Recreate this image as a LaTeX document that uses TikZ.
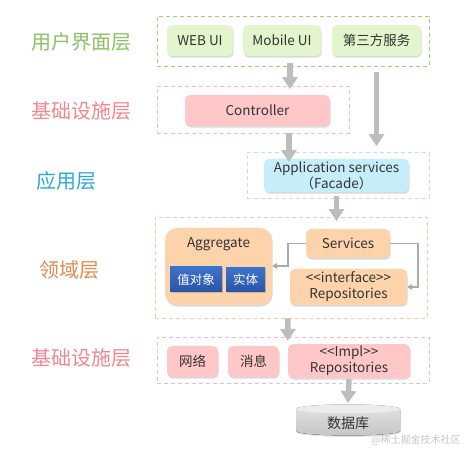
\documentclass[tikz,border=0pt]{standalone}
\usepackage{fontspec}
\setmainfont{Noto Sans CJK SC}
\usetikzlibrary{shadows,arrows.meta,calc}
\definecolor{uigreen}{HTML}{8CC063}
\definecolor{uidash}{HTML}{A8C87A}
\definecolor{uifill}{HTML}{E3F5CC}
\definecolor{infrapink}{HTML}{F0868F}
\definecolor{infradash}{HTML}{F5B8C4}
\definecolor{infrafill}{HTML}{FFC7C7}
\definecolor{appcyan}{HTML}{29A9D9}
\definecolor{appdash}{HTML}{B8E0EE}
\definecolor{appfill}{HTML}{C5EEFA}
\definecolor{domorange}{HTML}{E58A4E}
\definecolor{domdash}{HTML}{F5C9A0}
\definecolor{domfill}{HTML}{FDD3AB}
\definecolor{arrowgray}{HTML}{BDBDBD}
\definecolor{linegray}{HTML}{AAAAAA}
\definecolor{txt}{HTML}{333333}
\definecolor{bluetop}{HTML}{3D72CC}
\definecolor{bluebot}{HTML}{2A55A6}
\begin{document}
\begin{tikzpicture}[x=1pt,y=-1pt,
  box/.style={rounded corners=5pt, inner sep=2pt, align=center,
    font=\fontsize{13.5}{16}\selectfont, text=txt,
    drop shadow={shadow xshift=0.6pt, shadow yshift=-1.6pt, opacity=0.3}},
  layerbox/.style={dash pattern=on 4pt off 3pt, line width=0.8pt},
  layerlabel/.style={font=\fontsize{20}{24}\selectfont},
  bigarrow/.style={draw=arrowgray, line width=5.5pt, -{Triangle[length=12pt,width=15pt]}},
  thinarrow/.style={draw=linegray, line width=1.5pt, -{Triangle[length=5pt,width=6pt]}},
  bluebox/.style={inner sep=1pt, top color=bluetop, bottom color=bluebot, text=white,
    font=\fontsize{12.5}{15}\selectfont,
    drop shadow={shadow xshift=0.6pt, shadow yshift=-1.4pt, opacity=0.35}}
]
\useasboundingbox (0,0) rectangle (472,457);

% layer labels
\node[layerlabel, text=uigreen] (l1) at (81,42) {用户界面层};
\node[layerlabel, text=infrapink] (l2) at (81,111) {基础设施层};
\node[layerlabel, text=appcyan] (l3) at (67,181) {应用层};
\node[layerlabel, text=domorange] (l4) at (69,270) {领域层};
\node[layerlabel, text=infrapink] (l5) at (81,358) {基础设施层};

% dashed layer frames
\node[layerbox, draw=uidash, minimum width=272pt, minimum height=50pt] (uilayer) at (293,41) {};
\node[layerbox, draw=infradash, minimum width=192pt, minimum height=47pt] (infra1) at (253,109.5) {};
\node[layerbox, draw=appdash, minimum width=182pt, minimum height=46pt] (applayer) at (338,175) {};
\node[layerbox, draw=domdash, minimum width=272pt, minimum height=101pt] (domain) at (291,267.5) {};
\node[layerbox, draw=infradash, minimum width=272pt, minimum height=46pt] (infra2) at (293,360) {};

% UI layer
\node[box, fill=uifill, minimum width=66pt, minimum height=31pt] (web) at (200,40.5) {WEB UI};
\node[box, fill=uifill, minimum width=78pt, minimum height=31pt] (mobile) at (282,40.5) {Mobile UI};
\node[box, fill=uifill, minimum width=89pt, minimum height=31pt] (third) at (376.5,40.5) {第三方服务};

% infra 1
\node[box, fill=infrafill, minimum width=145pt, minimum height=31pt] (ctrl) at (257.5,110.5) {Controller};

% app
\node[box, fill=appfill, minimum width=145pt, minimum height=33pt] (appsvc) at (336.5,175.5) {Application services\\（Facade）};

% domain
\node[box, fill=domfill, rounded corners=12pt, minimum width=107pt, minimum height=77pt] (agg) at (218.5,266.5) {};
\node[font=\fontsize{13.5}{16}\selectfont, text=txt] (aggt) at (218.5,244) {Aggregate};
\node[bluebox, minimum width=52pt, minimum height=25pt] (vo) at (196,279.5) {值对象};
\node[bluebox, minimum width=39pt, minimum height=24pt] (ent) at (245.5,280) {实体};
\node[box, fill=domfill, minimum width=84pt, minimum height=29pt] (svc) at (348,243.5) {Services};
\node[box, fill=domfill, minimum width=117pt, minimum height=36pt] (irepo) at (348.5,287) {<{}<interface>{}>\\Repositories};

% infra 2
\node[box, fill=infrafill, minimum width=51pt, minimum height=31pt] (net) at (192.5,361.5) {网络};
\node[box, fill=infrafill, minimum width=51pt, minimum height=31pt] (msg) at (253.5,361.5) {消息};
\node[box, fill=infrafill, minimum width=122pt, minimum height=32pt] (impl) at (349,361) {<{}<Impl>{}>\\Repositories};

% database cylinder
\fill[top color=gray!22, bottom color=gray!45,
  drop shadow={shadow xshift=0.6pt, shadow yshift=-1.4pt, opacity=0.25}]
  (296,409) -- (296,431) arc[start angle=180, end angle=360, x radius=52pt, y radius=4.5pt]
  -- (400,409) arc[start angle=0, end angle=180, x radius=52pt, y radius=4.5pt] -- cycle;
\fill[gray!15] (348,409) ellipse[x radius=52pt, y radius=4.5pt];
\node[font=\fontsize{14}{16}\selectfont, text=txt] (db) at (348,423) {数据库};

% big arrows
\draw[bigarrow] ($(mobile.south)+(8,7)$) -- ($(mobile.south)+(8,33)$);
\draw[bigarrow] ($(third.south)+(0,16)$) -- ($(third.south)+(0,90)$);
\draw[bigarrow] ($(ctrl.south)+(31.5,7)$) -- ($(ctrl.south)+(31.5,36)$);
\draw[bigarrow] ($(appsvc.south)+(0,4)$) -- ($(appsvc.south)+(0,29)$);
\draw[bigarrow] ($(domain.south)+(-3,0)$) -- ($(impl.north west)+(0,-3)$);
\draw[bigarrow] ($(impl.south)+(0,1)$) -- ($(db)+(0,-20)$);

% thin connectors
\draw[thinarrow] (svc.west) -- ++(-18,0) |- (agg.east |- 0,266);
\draw[thinarrow] (svc.east) -- ++(28,0) |- (irepo.east);

% watermark
\node[font=\fontsize{10}{12}\selectfont, text=gray!45] (wm) at (416,440) {@稀土掘金技术社区};
\end{tikzpicture}
\end{document}
